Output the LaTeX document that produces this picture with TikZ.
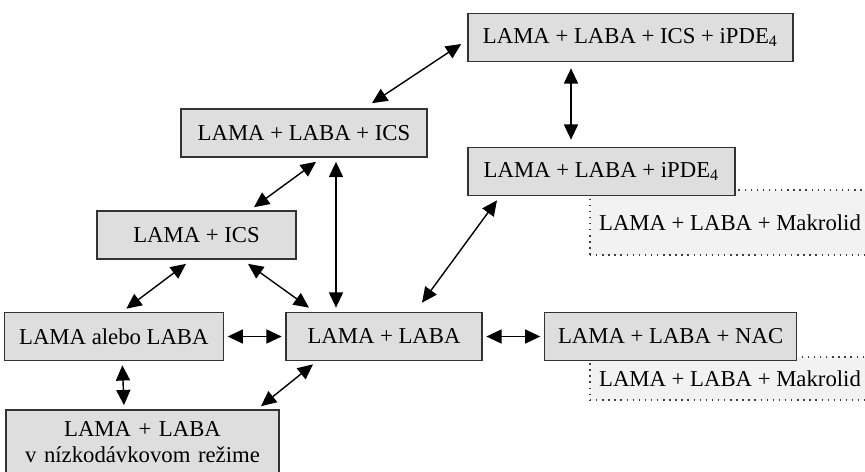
\documentclass[tikz,border=0pt]{standalone}
\usepackage{fontspec}
\setmainfont{Liberation Serif}
\usetikzlibrary{positioning,arrows.meta,calc}

\begin{document}
\begin{tikzpicture}[
        x=0.015cm, y=-0.015cm,
        node distance = 0.915cm,
        block/.style = {rectangle, draw=black!80, fill=black!13, line width=0.7pt, text centered,
                        minimum height=0.72cm, inner sep=1pt, font=\fontsize{9.7}{11.4}\selectfont},
        extra/.style = {rectangle, draw=black!75, dotted, line width=0.6pt, fill=black!5,
                        inner sep=1pt, font=\fontsize{9.7}{11.4}\selectfont},
        line/.style = {draw, line width=0.6pt, {Triangle[length=6.5pt,width=6pt]}-{Triangle[length=6.5pt,width=6pt]}}
    ]
    \useasboundingbox (0,0) rectangle (865,471);

    % dotted boxes behind
    \node [extra, minimum width=4.2cm, minimum height=0.975cm] (mak1) at (730,222.5) {LAMA + LABA + Makrolid};
    \node [extra, minimum width=4.2cm, minimum height=0.645cm] (mak2) at (730,378.5) {LAMA + LABA + Makrolid};

    \node [block, minimum width=4.875cm] (top) at (630.5,37.5) {LAMA + LABA + ICS + iPDE\textsubscript{4}};
    \node [block, minimum width=3.69cm] (lli) at (304,133) {LAMA + LABA + ICS};
    \node [block, minimum width=4.005cm] (llp) at (601.5,171.5) {LAMA + LABA + iPDE\textsubscript{4}};
    \node [block, minimum width=2.985cm] (li) at (196.5,235) {LAMA + ICS};
    \node [block, minimum width=2.94cm] (ll) at (384,336.5) {LAMA + LABA};
    \node [block, minimum width=3.285cm, left=of ll] (lol) {LAMA alebo LABA};
    \node [block, minimum width=3.78cm, right=of ll] (nac) {LAMA + LABA + NAC};
    \node [block, minimum width=4.095cm, minimum height=0.96cm, text width=4cm] (low) at (142.5,442)
        {LAMA + LABA\\v nízkodávkovom režime};

    \path [line] ($(top.west)+(-6,6.5)$) -- ($(lli.north)+(68,-5)$);
    \path [line] ($(top.south)+(-59.5,6)$) -- ($(llp.north)+(-30.5,-7)$);
    \path [line] ($(lli.south)+(12,4)$) -- ($(li.north)+(57.5,-3)$);
    \path [line] ($(lli.south)+(32,4)$) -- ($(ll.north)+(-48,-4)$);
    \path [line] ($(li.south)+(-10.5,4)$) -- ($(lol.north)+(12.5,-3)$);
    \path [line] ($(li.south)+(51.5,4)$) -- ($(ll.north)+(-75,-4)$);
    \path [line] ($(llp.south)+(-104.5,4)$) -- ($(ll.north)+(38,-9)$);
    \path [line, shorten <=1.5pt, shorten >=1.5pt] (lol) -- (ll);
    \path [line, shorten <=1.5pt, shorten >=1.5pt] (ll) -- (nac);
    \path [line] ($(lol.south)+(8.5,4)$) -- ($(low.north)+(-18.5,-4)$);
    \path [line] ($(ll.south)+(-71,3)$) -- ($(low.north)+(118.5,-3)$);

\end{tikzpicture}
\end{document}
